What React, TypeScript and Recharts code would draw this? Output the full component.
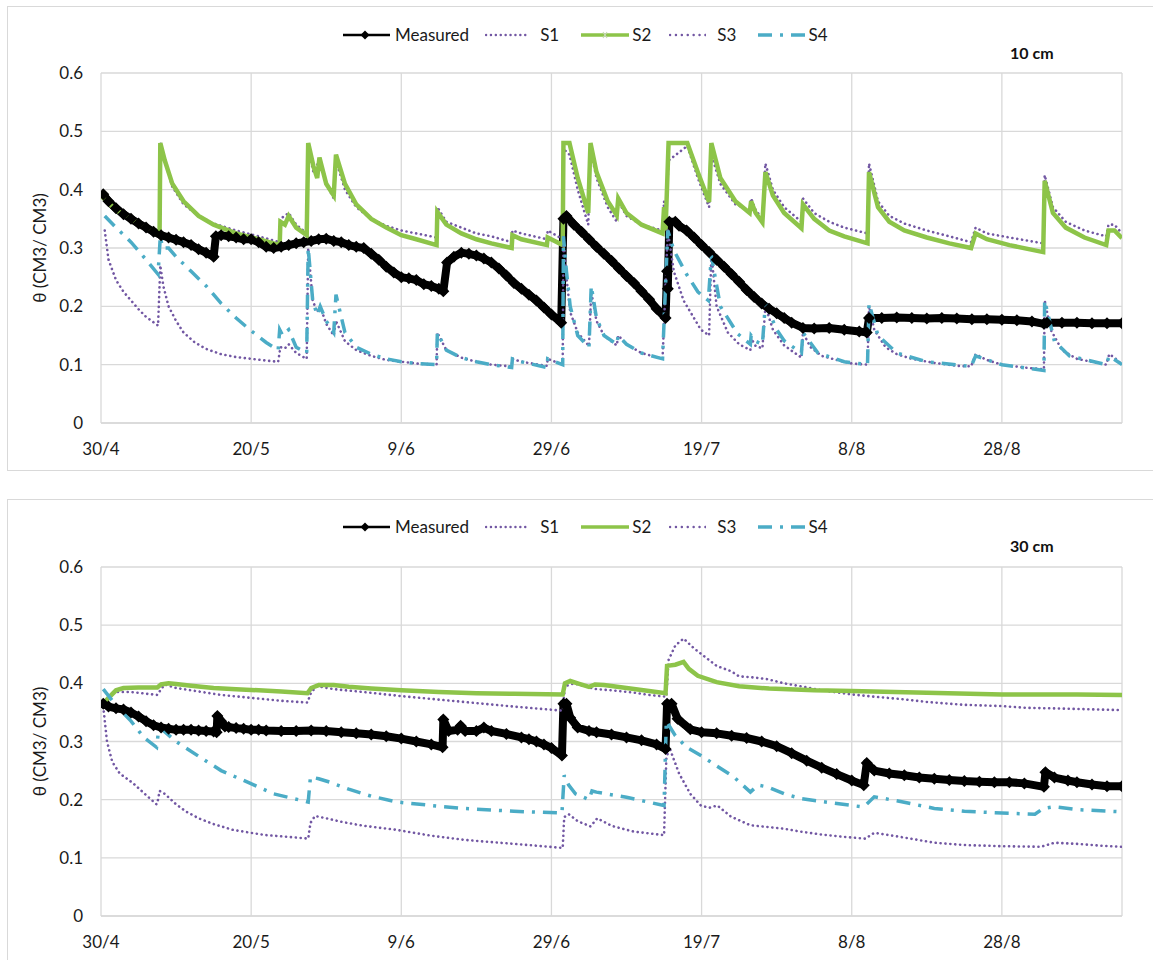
import React from 'react';
import { LineChart, Line, XAxis, YAxis, CartesianGrid, Label } from 'recharts';

// days counted from 30/4
const DAY_TICKS = [0, 20, 40, 60, 80, 100, 120];
const DAY_LABELS = ['30/4', '20/5', '9/6', '29/6', '19/7', '8/8', '28/8'];
const THETA_TICKS = [0, 0.1, 0.2, 0.3, 0.4, 0.5, 0.6];

type Pt = [number, number];

// ---- 10 cm ----
const measured10: Pt[] = [
  [0.3, 0.392], [1, 0.38], [2, 0.368], [3, 0.358], [4, 0.35], [5, 0.342], [6, 0.335], [7, 0.328], [8, 0.322],
  [9, 0.318], [10, 0.314], [11, 0.31], [12, 0.305], [13, 0.298], [14, 0.292], [15, 0.285], [15.3, 0.32], [16, 0.322],
  [17, 0.32], [18, 0.318], [19, 0.315], [20, 0.315], [21, 0.31], [22, 0.302], [23, 0.3], [24, 0.302], [25, 0.305],
  [26, 0.308], [27, 0.31], [28, 0.312], [29, 0.315], [30, 0.316], [31, 0.312], [32, 0.31], [33, 0.305], [34, 0.302],
  [35, 0.3], [36, 0.29], [37, 0.28], [38, 0.268], [39, 0.258], [40, 0.25], [41, 0.248], [42, 0.245], [43, 0.238],
  [44, 0.235], [45, 0.23], [45.6, 0.226], [46.1, 0.275], [47, 0.285], [48, 0.292], [49, 0.29], [50, 0.287], [51, 0.282],
  [52, 0.275], [53, 0.265], [54, 0.253], [55, 0.24], [56, 0.23], [57, 0.22], [58, 0.21], [59, 0.198], [60, 0.186],
  [61.3, 0.172], [61.6, 0.35], [62, 0.355], [63, 0.34], [64, 0.328], [65, 0.315], [66, 0.302], [67, 0.29], [68, 0.278],
  [69, 0.265], [70, 0.252], [71, 0.24], [72, 0.226], [73, 0.212], [74, 0.196], [75.2, 0.18], [75.4, 0.26], [75.5, 0.23],
  [75.7, 0.345], [76.5, 0.345], [77, 0.338], [78, 0.33], [79, 0.318], [80, 0.305], [81, 0.293], [82, 0.28], [83, 0.268],
  [84, 0.255], [85, 0.242], [86, 0.228], [87, 0.216], [88, 0.205], [89, 0.196], [90, 0.188], [91, 0.18], [92, 0.172],
  [93.5, 0.163], [95, 0.162], [97, 0.163], [99, 0.16], [101, 0.157], [102, 0.155], [102.3, 0.18], [104, 0.18],
  [106, 0.181], [108, 0.18], [110, 0.179], [112, 0.18], [114, 0.179], [116, 0.178], [118, 0.178], [120, 0.177],
  [122, 0.176], [124, 0.174], [125.6, 0.17], [126, 0.172], [128, 0.172], [130, 0.172], [132, 0.171], [134, 0.171],
  [136, 0.171],
];

const s1_10: Pt[] = [
  [0, 0.39], [2, 0.365], [4, 0.35], [6, 0.337], [7.8, 0.325], [7.9, 0.48], [8.5, 0.45], [9.5, 0.405], [11, 0.375],
  [13, 0.355], [15, 0.342], [18, 0.33], [21, 0.32], [23.8, 0.31], [23.9, 0.35], [25, 0.36], [26, 0.34], [27.4, 0.325],
  [27.6, 0.47], [28.3, 0.43], [29.1, 0.45], [30, 0.41], [31, 0.385], [31.3, 0.45], [32.5, 0.4], [34, 0.37], [36, 0.35],
  [38, 0.338], [40, 0.33], [42, 0.325], [44.7, 0.318], [44.8, 0.37], [46, 0.345], [48, 0.335], [50, 0.325], [52, 0.32],
  [54.7, 0.31], [54.8, 0.33], [56, 0.325], [59.4, 0.315], [59.5, 0.33], [61.5, 0.315], [61.6, 0.47], [62.4, 0.46],
  [63.5, 0.4], [64.9, 0.34], [65.2, 0.47], [66, 0.42], [67.5, 0.37], [68.7, 0.345], [68.9, 0.38], [70, 0.355], [72, 0.34],
  [74.8, 0.33], [75, 0.38], [75.2, 0.34], [75.6, 0.45], [78.1, 0.475], [79.5, 0.42], [81, 0.37], [81.3, 0.46],
  [82.5, 0.41], [84.5, 0.375], [86.4, 0.365], [86.6, 0.385], [87.2, 0.365], [88.1, 0.35], [88.5, 0.445], [89.5, 0.4],
  [91, 0.37], [93.3, 0.345], [93.5, 0.385], [95, 0.36], [97, 0.345], [99, 0.335], [102.1, 0.325], [102.3, 0.445],
  [103.5, 0.38], [105, 0.355], [107, 0.342], [110, 0.33], [113, 0.32], [115.9, 0.31], [116.5, 0.335], [118, 0.325],
  [121, 0.318], [125.5, 0.308], [125.7, 0.425], [126.8, 0.37], [128.5, 0.345], [131, 0.33], [133.9, 0.32], [134.2, 0.34],
  [135, 0.34], [136, 0.325],
];

const s2_10: Pt[] = [
  [0, 0.39], [2, 0.365], [4, 0.35], [6, 0.335], [7.8, 0.322], [7.9, 0.48], [8.5, 0.45], [9.5, 0.41], [11, 0.38],
  [13, 0.355], [15, 0.34], [18, 0.325], [21, 0.315], [23.8, 0.305], [23.9, 0.345], [24.5, 0.34], [25, 0.355], [26, 0.335],
  [27.4, 0.322], [27.6, 0.48], [28.3, 0.44], [28.8, 0.42], [29.1, 0.455], [30, 0.41], [31, 0.39], [31.3, 0.46],
  [32.5, 0.41], [34, 0.375], [36, 0.35], [38, 0.335], [40, 0.322], [42, 0.315], [44.7, 0.305], [44.8, 0.362], [46, 0.34],
  [48, 0.325], [50, 0.315], [52, 0.308], [54.7, 0.3], [54.8, 0.322], [56, 0.315], [59.4, 0.305], [59.5, 0.318],
  [61.5, 0.305], [61.6, 0.48], [62.4, 0.48], [63.5, 0.42], [64.9, 0.36], [65.2, 0.48], [66, 0.43], [67.5, 0.38],
  [68.7, 0.356], [68.9, 0.385], [70, 0.36], [72, 0.34], [74.8, 0.325], [75, 0.37], [75.2, 0.33], [75.6, 0.48], [78.1, 0.48],
  [79.5, 0.43], [81, 0.379], [81.3, 0.48], [82.5, 0.42], [84.5, 0.38], [86.4, 0.36], [86.6, 0.38], [87.2, 0.36],
  [88.1, 0.344], [88.5, 0.43], [89.5, 0.39], [91, 0.36], [93.3, 0.334], [93.5, 0.375], [95, 0.35], [97, 0.33], [99, 0.32],
  [102.1, 0.308], [102.3, 0.43], [103.5, 0.37], [105, 0.345], [107, 0.33], [110, 0.318], [113, 0.308], [115.9, 0.3],
  [116.5, 0.325], [118, 0.315], [121, 0.305], [125.5, 0.293], [125.7, 0.415], [126.8, 0.36], [128.5, 0.335], [131, 0.318],
  [133.9, 0.305], [134.2, 0.33], [135, 0.33], [136, 0.317],
];

const s3_10: Pt[] = [
  [0.5, 0.33], [1, 0.28], [2, 0.245], [3, 0.225], [4, 0.21], [5, 0.195], [6, 0.182], [7.6, 0.167], [7.9, 0.27],
  [8.3, 0.235], [9, 0.2], [10, 0.175], [11, 0.155], [12.5, 0.138], [14, 0.127], [16, 0.118], [18, 0.113], [20, 0.11],
  [22, 0.107], [23.6, 0.105], [23.9, 0.13], [24.5, 0.128], [25, 0.135], [26, 0.12], [27.4, 0.11], [27.6, 0.3], [28.2, 0.21],
  [28.8, 0.19], [29.2, 0.2], [30, 0.17], [31, 0.15], [31.3, 0.175], [32.5, 0.14], [34, 0.125], [36, 0.115], [38, 0.108],
  [40, 0.105], [42, 0.102], [44.7, 0.1], [44.8, 0.155], [46, 0.125], [48, 0.112], [50, 0.105], [52, 0.1], [54.7, 0.097],
  [54.8, 0.11], [56, 0.105], [59.4, 0.098], [59.5, 0.11], [61.5, 0.1], [61.6, 0.32], [62, 0.25], [62.5, 0.19],
  [63.5, 0.155], [65, 0.132], [65.3, 0.225], [66, 0.175], [67, 0.15], [68.7, 0.133], [68.9, 0.15], [70, 0.135], [72, 0.12],
  [74.8, 0.11], [75.5, 0.33], [76.3, 0.26], [77.6, 0.21], [79.9, 0.16], [81, 0.15], [81.3, 0.29], [82, 0.2], [83.5, 0.155],
  [85, 0.135], [86.5, 0.125], [86.6, 0.145], [87.2, 0.132], [88.1, 0.128], [88.5, 0.2], [89.5, 0.16], [91, 0.133],
  [93.3, 0.112], [93.5, 0.155], [94.5, 0.13], [96, 0.115], [98, 0.108], [100, 0.102], [102.1, 0.1], [102.3, 0.2],
  [103, 0.16], [104.5, 0.13], [106, 0.118], [108, 0.11], [111, 0.103], [114, 0.098], [115.9, 0.097], [116.5, 0.118],
  [118, 0.108], [120, 0.1], [123, 0.095], [125.6, 0.092], [125.7, 0.21], [126.5, 0.16], [128, 0.125], [130, 0.11],
  [133.9, 0.1], [134.3, 0.118], [135, 0.112], [136, 0.1],
];

const s4_10: Pt[] = [
  [0.5, 0.355], [2, 0.335], [4, 0.31], [6, 0.28], [7.6, 0.255], [7.9, 0.32], [8.2, 0.3], [9, 0.3], [10, 0.285], [12, 0.26],
  [14, 0.235], [16, 0.205], [18, 0.18], [20, 0.158], [22, 0.138], [23.6, 0.125], [23.8, 0.16], [24.2, 0.15], [25, 0.16],
  [26, 0.13], [27.4, 0.12], [27.6, 0.3], [28.2, 0.21], [28.8, 0.185], [29.2, 0.2], [30, 0.175], [31, 0.155], [31.3, 0.22],
  [32.5, 0.155], [34, 0.13], [36, 0.118], [38, 0.11], [40, 0.105], [42, 0.102], [44.7, 0.1], [44.8, 0.155], [46, 0.125],
  [48, 0.112], [50, 0.105], [52, 0.1], [54.7, 0.095], [54.8, 0.11], [56, 0.105], [59.4, 0.095], [59.5, 0.11], [61.5, 0.1],
  [61.6, 0.32], [62, 0.26], [62.5, 0.2], [63.5, 0.15], [65, 0.13], [65.3, 0.235], [66, 0.18], [67, 0.15], [68.7, 0.135],
  [68.9, 0.15], [70, 0.135], [72, 0.12], [74.8, 0.11], [75.5, 0.33], [76.3, 0.296], [78, 0.255], [79.5, 0.225],
  [80.9, 0.21], [81.3, 0.287], [82.5, 0.2], [84.8, 0.153], [86.5, 0.135], [86.6, 0.15], [87.2, 0.14], [88.1, 0.135],
  [88.5, 0.205], [90, 0.16], [91, 0.141], [93.3, 0.12], [93.5, 0.155], [95.5, 0.12], [99, 0.105], [102.1, 0.1],
  [102.3, 0.205], [103.5, 0.15], [106, 0.12], [110, 0.105], [115.9, 0.097], [116.5, 0.115], [120, 0.1], [125.6, 0.09],
  [125.7, 0.21], [127, 0.14], [129, 0.115], [133.9, 0.1], [134.3, 0.115], [136, 0.1],
];

// ---- 30 cm ----
const measured30: Pt[] = [
  [0.3, 0.365], [1, 0.36], [2, 0.357], [3, 0.355], [4, 0.35], [5, 0.343], [6, 0.335], [7, 0.328], [8, 0.324], [9, 0.322],
  [10, 0.32], [11, 0.32], [12, 0.32], [13, 0.319], [14, 0.318], [15, 0.317], [15.4, 0.316], [15.5, 0.344], [16, 0.335],
  [16.5, 0.326], [17, 0.325], [18, 0.323], [19, 0.322], [20, 0.32], [21, 0.32], [22, 0.319], [24, 0.318], [26, 0.318],
  [28, 0.319], [30, 0.318], [32, 0.316], [34, 0.314], [36, 0.312], [38, 0.309], [40, 0.305], [42, 0.3], [44, 0.295],
  [45.5, 0.29], [45.6, 0.338], [46.3, 0.318], [47.5, 0.32], [47.9, 0.327], [48.5, 0.318], [50, 0.318], [51, 0.324],
  [52, 0.318], [54, 0.313], [56, 0.307], [57, 0.304], [58, 0.3], [59, 0.295], [60, 0.289], [61.4, 0.276], [61.6, 0.365],
  [62, 0.365], [62.5, 0.341], [63.5, 0.324], [65, 0.318], [66, 0.316], [68, 0.312], [70, 0.307], [72, 0.302], [74, 0.295],
  [75.2, 0.287], [75.4, 0.365], [76, 0.365], [76.8, 0.339], [78.5, 0.321], [80, 0.316], [82, 0.314], [84, 0.31],
  [86, 0.306], [88, 0.3], [90, 0.292], [92, 0.28], [94, 0.267], [96, 0.255], [98, 0.244], [100, 0.233], [101.6, 0.225],
  [102, 0.263], [103, 0.25], [105, 0.245], [107, 0.242], [109, 0.238], [111, 0.236], [113, 0.234], [115, 0.232],
  [117, 0.231], [119, 0.23], [121, 0.23], [123, 0.228], [125.6, 0.222], [125.8, 0.247], [127, 0.238], [128.8, 0.233],
  [130, 0.23], [132, 0.226], [134, 0.223], [136, 0.223],
];

const s1_30: Pt[] = [
  [0.3, 0.365], [1, 0.378], [2, 0.385], [4, 0.385], [7.5, 0.38], [8, 0.39], [8.5, 0.398], [10, 0.392], [13, 0.386],
  [16, 0.38], [20, 0.375], [24, 0.37], [27.5, 0.367], [28, 0.385], [28.8, 0.395], [31, 0.39], [35, 0.385], [40, 0.378],
  [45, 0.372], [50, 0.366], [55, 0.36], [61.5, 0.353], [61.8, 0.395], [63, 0.4], [65, 0.393], [66, 0.39], [68, 0.388],
  [71, 0.384], [73, 0.38], [75.3, 0.377], [75.6, 0.44], [76.5, 0.465], [77.6, 0.477], [79, 0.46], [80.5, 0.445],
  [82, 0.43], [83.9, 0.421], [85, 0.412], [87, 0.41], [88.8, 0.407], [91, 0.4], [93.2, 0.395], [96, 0.388], [99.9, 0.381],
  [103, 0.377], [106.5, 0.373], [110, 0.368], [115, 0.363], [119.9, 0.361], [123, 0.358], [126.5, 0.357], [130, 0.356],
  [136, 0.354],
];

const s2_30: Pt[] = [
  [0.3, 0.365], [1, 0.375], [2, 0.388], [3, 0.392], [5, 0.393], [7.5, 0.393], [8, 0.398], [9, 0.4], [10, 0.399],
  [12, 0.396], [15, 0.392], [18, 0.39], [21, 0.388], [24, 0.386], [27.5, 0.383], [28, 0.392], [29, 0.397], [31, 0.397],
  [33, 0.394], [36, 0.391], [40, 0.388], [45, 0.385], [50, 0.383], [55, 0.382], [61.5, 0.381], [61.8, 0.4], [62.5, 0.404],
  [63.5, 0.4], [65, 0.394], [65.8, 0.398], [67, 0.397], [70, 0.392], [73, 0.387], [75.2, 0.383], [75.4, 0.43],
  [76.5, 0.432], [77.6, 0.437], [78.3, 0.425], [79.5, 0.413], [82, 0.402], [85, 0.395], [89, 0.391], [95, 0.388],
  [100, 0.387], [110, 0.384], [120, 0.381], [130, 0.381], [136, 0.38],
];

const s3_30: Pt[] = [
  [0.3, 0.36], [0.8, 0.3], [1.5, 0.265], [2.5, 0.245], [4.3, 0.228], [6, 0.208], [7.4, 0.192], [7.6, 0.2], [7.8, 0.215],
  [8.5, 0.21], [10, 0.192], [11.4, 0.179], [13, 0.168], [15, 0.158], [17.6, 0.148], [20, 0.143], [22, 0.139], [25, 0.136],
  [27.6, 0.133], [27.9, 0.16], [28.5, 0.172], [30, 0.168], [32, 0.162], [35, 0.155], [39.4, 0.148], [44, 0.138],
  [48.3, 0.131], [52, 0.127], [56, 0.123], [61.5, 0.117], [61.7, 0.17], [62.3, 0.175], [63.5, 0.163], [65.2, 0.154],
  [66.1, 0.168], [68, 0.155], [71, 0.145], [75, 0.139], [75.3, 0.27], [75.7, 0.29], [77, 0.245], [78.5, 0.21],
  [79.9, 0.19], [81, 0.186], [82.1, 0.19], [83.9, 0.171], [86.5, 0.156], [88.8, 0.153], [91, 0.15], [93.2, 0.145],
  [96, 0.14], [99, 0.136], [101.8, 0.133], [103, 0.143], [106, 0.137], [111, 0.126], [115, 0.122], [120, 0.12],
  [125.2, 0.119], [127, 0.126], [130, 0.124], [133, 0.121], [136, 0.119],
];

const s4_30: Pt[] = [
  [0.3, 0.39], [2, 0.362], [4, 0.335], [5.7, 0.307], [7.4, 0.29], [7.7, 0.322], [8.2, 0.32], [10, 0.3], [13.2, 0.273],
  [16, 0.25], [19.9, 0.228], [23, 0.21], [27.6, 0.196], [27.9, 0.239], [29, 0.236], [30.5, 0.23], [33, 0.218],
  [36, 0.206], [39.4, 0.196], [44, 0.19], [48.3, 0.185], [55, 0.18], [61.4, 0.177], [61.7, 0.242], [62.3, 0.225],
  [63.2, 0.21], [65, 0.2], [65.4, 0.215], [66, 0.213], [70, 0.204], [75, 0.19], [75.3, 0.335], [76.5, 0.31], [78, 0.29],
  [79.9, 0.276], [82, 0.258], [84.3, 0.239], [86.5, 0.213], [87.5, 0.225], [88.8, 0.222], [91, 0.21], [93.2, 0.202],
  [97, 0.195], [101.2, 0.188], [101.8, 0.19], [103, 0.205], [106, 0.198], [111, 0.185], [115, 0.18], [120, 0.177],
  [124.4, 0.175], [125.5, 0.185], [127, 0.188], [130, 0.183], [136, 0.179],
];

const FONT = 'Lato, "Open Sans", sans-serif';
const GRID = '#d9d9d9';
const PURPLE = '#7257a3';
const GREEN = '#8dc449';
const CYAN = '#4bacc6';

const toRows = (pts: Pt[]) => pts.map(([d, v]) => ({ d, v }));

function Diamond(props: any) {
  const { cx, cy, index } = props;
  if (cx == null || cy == null) return <g key={index} />;
  const r = 6;
  return (
    <path
      key={index}
      d={`M${cx},${cy - r}L${cx + r},${cy}L${cx},${cy + r}L${cx - r},${cy}Z`}
      fill="#000"
    />
  );
}

function LegendRow({ top, markS2 }: { top: number; markS2: boolean }) {
  const txt: React.CSSProperties = { fontSize: 17, color: '#1a1a1a', lineHeight: '20px' };
  return (
    <div style={{ position: 'absolute', left: 343, top, display: 'flex', alignItems: 'center', fontFamily: FONT }}>
      <svg width={47} height={12}>
        <line x1={0} y1={6} x2={47} y2={6} stroke="#000" strokeWidth={2.5} />
        <path d="M22,1.5L26.5,6L22,10.5L17.5,6Z" fill="#000" />
      </svg>
      <span style={{ ...txt, marginLeft: 5 }}>Measured</span>
      <svg width={43} height={12} style={{ marginLeft: 16 }}>
        <line x1={1} y1={6} x2={43} y2={6} stroke={PURPLE} strokeWidth={2.4} strokeDasharray="0.1 4.8" strokeLinecap="round" />
      </svg>
      <span style={{ ...txt, marginLeft: 12 }}>S1</span>
      <svg width={48} height={12} style={{ marginLeft: 22 }}>
        <line x1={0} y1={6} x2={48} y2={6} stroke={GREEN} strokeWidth={3.5} />
        {markS2 && <path d="M22,3L26,9M26,3L22,9" stroke="#c8d8b8" strokeWidth={1.2} />}
      </svg>
      <span style={{ ...txt, marginLeft: 3 }}>S2</span>
      <svg width={37} height={12} style={{ marginLeft: 18 }}>
        <line x1={1} y1={6} x2={37} y2={6} stroke={PURPLE} strokeWidth={2.4} strokeDasharray="0.1 5.8" strokeLinecap="round" />
      </svg>
      <span style={{ ...txt, marginLeft: 11 }}>S3</span>
      <svg width={50} height={12} style={{ marginLeft: 22 }}>
        <line x1={0} y1={6} x2={50} y2={6} stroke={CYAN} strokeWidth={3.5} strokeDasharray="14 8 3 8" />
      </svg>
      <span style={{ ...txt, marginLeft: 0 }}>S4</span>
    </div>
  );
}

interface PanelProps {
  top: number;
  height: number;
  marginTop: number;
  depth: string;
  measured: Pt[];
  s1: Pt[];
  s2: Pt[];
  s3: Pt[];
  s4: Pt[];
  legendTop: number;
  depthTop: number;
  markS2: boolean;
}

function Panel(p: PanelProps) {
  return (
    <>
      <div style={{ position: 'absolute', left: 0, top: p.top }}>
        <LineChart
          width={1153}
          height={p.height}
          margin={{ top: p.marginTop, right: 31, bottom: 0, left: 0 }}
          style={{ fontFamily: FONT }}
        >
          <CartesianGrid stroke={GRID} strokeWidth={1.3} />
          <XAxis
            dataKey="d"
            type="number"
            domain={[0, 136]}
            ticks={DAY_TICKS}
            tickFormatter={(v: number) => DAY_LABELS[DAY_TICKS.indexOf(v)] ?? ''}
            allowDataOverflow
            height={47}
            axisLine={{ stroke: GRID, strokeWidth: 1.3 }}
            tickLine={false}
            tickMargin={14}
            tick={{ fontSize: 17, fill: '#1a1a1a' }}
          />
          <YAxis
            dataKey="v"
            type="number"
            domain={[0, 0.6]}
            ticks={THETA_TICKS}
            width={101}
            axisLine={false}
            tickLine={false}
            tickMargin={12}
            tick={{ fontSize: 17, fill: '#1a1a1a' }}
          >
            <Label value="θ (CM3/ CM3)" angle={-90} position="center" dx={-11} style={{ fontSize: 17, fill: '#1a1a1a' }} />
          </YAxis>
          <Line
            data={toRows(p.measured)}
            dataKey="v"
            type="linear"
            stroke="#000"
            strokeWidth={8}
            strokeLinejoin="round"
            dot={Diamond}
            isAnimationActive={false}
          />
          <Line
            data={toRows(p.s1)}
            dataKey="v"
            type="linear"
            stroke={PURPLE}
            strokeWidth={2.6}
            strokeDasharray="0.1 4.8"
            strokeLinecap="round"
            dot={false}
            isAnimationActive={false}
          />
          <Line
            data={toRows(p.s2)}
            dataKey="v"
            type="linear"
            stroke={GREEN}
            strokeWidth={4.5}
            dot={false}
            isAnimationActive={false}
          />
          <Line
            data={toRows(p.s3)}
            dataKey="v"
            type="linear"
            stroke={PURPLE}
            strokeWidth={2.6}
            strokeDasharray="0.1 4.8"
            strokeLinecap="round"
            dot={false}
            isAnimationActive={false}
          />
          <Line
            data={toRows(p.s4)}
            dataKey="v"
            type="linear"
            stroke={CYAN}
            strokeWidth={3.5}
            strokeDasharray="14 8 3 8"
            dot={false}
            isAnimationActive={false}
          />
        </LineChart>
      </div>
      <LegendRow top={p.legendTop} markS2={p.markS2} />
      <div
        style={{
          position: 'absolute',
          left: 1010,
          top: p.depthTop,
          fontFamily: FONT,
          fontWeight: 700,
          fontSize: 16,
          color: '#111',
        }}
      >
        {p.depth}
      </div>
    </>
  );
}

export default function App() {
  return (
    <div style={{ position: 'absolute', left: 0, top: 0, width: 1153, height: 960, overflow: 'hidden', background: '#fff' }}>
      <div style={{ position: 'absolute', left: 7, top: 6, width: 1180, height: 463, border: '1.5px solid #d9d9d9' }} />
      <div style={{ position: 'absolute', left: 7, top: 499, width: 1180, height: 500, border: '1.5px solid #d9d9d9' }} />
      <Panel
        top={0}
        height={470}
        marginTop={73}
        depth="10 cm"
        measured={measured10}
        s1={s1_10}
        s2={s2_10}
        s3={s3_10}
        s4={s4_10}
        legendTop={25}
        depthTop={43}
        markS2
      />
      <Panel
        top={492}
        height={471}
        marginTop={75}
        depth="30 cm"
        measured={measured30}
        s1={s1_30}
        s2={s2_30}
        s3={s3_30}
        s4={s4_30}
        legendTop={517}
        depthTop={536}
        markS2={false}
      />
    </div>
  );
}
